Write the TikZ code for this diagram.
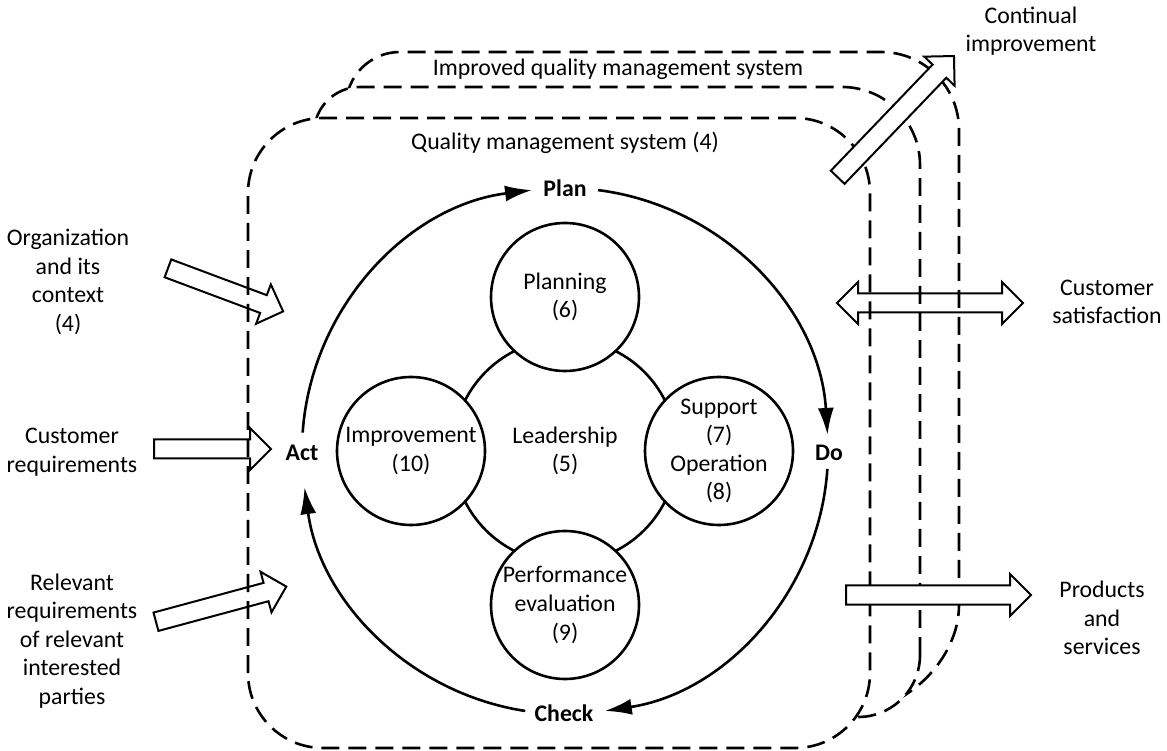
\documentclass[tikz,border=0pt]{standalone}
\usepackage{fontspec}
\setmainfont{Carlito}
\usetikzlibrary{positioning,shapes.arrows,arrows.meta}
\begin{document}
\begin{tikzpicture}[x=1pt,y=1pt,
    every node/.style={font=\fontsize{23.8}{28.6}\selectfont,align=center},
    qmsbox/.style={draw,dash pattern=on 18pt off 9pt,line width=2.6pt,fill=white},
    clause/.style={circle,draw,line width=2.6pt,fill=white,minimum size=148pt,inner sep=0pt},
    pdca/.style={font=\fontsize{23.8}{28.6}\selectfont\bfseries},
    pdcaarc/.style={line width=2.6pt,-{Latex[length=27pt,width=16pt]}},
    blockarrow/.style={single arrow,draw,line width=2pt,minimum width=40pt,
      single arrow head extend=11.5pt,single arrow tip angle=90,inner xsep=0pt,inner ysep=8.5pt,anchor=tail},
    bothways/.style={double arrow,draw,line width=2pt,minimum width=40pt,
      double arrow head extend=11.5pt,double arrow tip angle=90,inner xsep=0pt,inner ysep=8.5pt}]
  \useasboundingbox (0,0) rectangle (1167,750);

  % system boxes, back to front
  \draw[qmsbox] (959,145) -- (959,620) arc[start angle=0,end angle=90,radius=78pt]
    -- (400,698) arc[start angle=90,end angle=180,radius=54pt] -- (346,38) -- (850,38)
    .. controls (905,38) and (959,90) .. (959,145) -- cycle;
  \draw[qmsbox] (920,95) -- (920,585) arc[start angle=0,end angle=90,radius=78pt]
    -- (360,663) arc[start angle=90,end angle=180,radius=46pt] -- (314,33) -- (858,33)
    arc[start angle=270,end angle=360,radius=62pt] -- cycle;
  \draw[qmsbox,rounded corners=75pt] (248,2) rectangle (870,632);
  \node (improved) at (618,681) {Improved quality management system};
  \node (qms) at (565,607) {Quality management system (4)};

  % PDCA cycle
  \coordinate (cyc) at (565,299);
  \draw[line width=2.6pt] (cyc) circle[radius=112pt];
  \node (leadership) at (cyc) {Leadership\\(5)};
  \node[clause] (planning) at ([yshift=154pt]cyc) {Planning\\(6)};
  \node[clause] (support) at ([xshift=154pt]cyc) {Support\\(7)\\Operation\\(8)};
  \node[clause] (performance) at ([yshift=-154pt]cyc) {Performance\\evaluation\\(9)};
  \node[clause] (improvement) at ([xshift=-154pt]cyc) {Improvement\\(10)};

  \node[pdca] (plan) at (565,562) {Plan};
  \node[pdca] (do) at (829,297) {Do};
  \node[pdca] (check) at (564,37) {Check};
  \node[pdca] (act) at (302,297) {Act};
  \foreach \a/\b in {176/97.2,82.8/3.5,-3.9/-81.3,-98.7/-172.1}
    \draw[pdcaarc] ([shift={(\a:263pt)}]cyc) arc[start angle=\a,end angle=\b,radius=263pt];

  % inputs
  \node[blockarrow,minimum height=123pt,rotate=-20.5] (orgarrow) at (167,482) {};
  \node[blockarrow,minimum height=117pt] (custarrow) at (153,301) {};
  \node[blockarrow,minimum height=135pt,rotate=15.1] (relarrow) at (155,128) {};
  \node (org) at (68,468) {Organization\\and its\\context\\(4)};
  \node (custreq) at (72,298) {Customer\\requirements};
  \node (relreq) at (72,109) {Relevant\\requirements\\of relevant\\interested\\parties};

  % outputs
  \node[blockarrow,fill=white,minimum height=168pt,rotate=46.2] (contarrow) at (837,572) {};
  \node[bothways,minimum height=186pt] (satarrow) at (930,447) {};
  \node[blockarrow,fill=white,minimum height=185pt] (prodarrow) at (845,155) {};
  \node (contimp) at (1031,719) {Continual\\improvement};
  \node (satis) at (1107,448) {Customer\\satisfaction};
  \node (prod) at (1102,132) {Products\\and\\services};
\end{tikzpicture}
\end{document}
